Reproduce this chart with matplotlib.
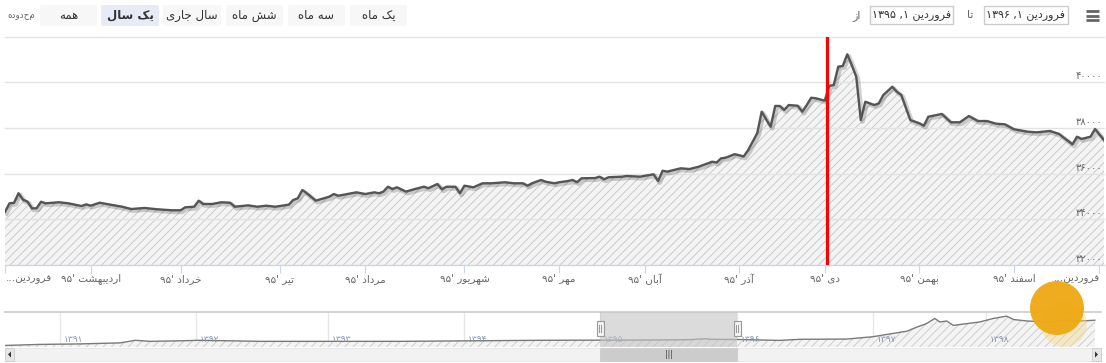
import matplotlib
matplotlib.use('Agg')
import matplotlib.pyplot as plt
from matplotlib import font_manager, ft2font, patheffects as pe, transforms
from matplotlib.patches import Rectangle, FancyBboxPatch, Circle, Polygon

# ---------------- data ----------------
main_days = [0, 1, 2, 3, 4, 5, 6, 7, 8, 9, 12, 14, 17, 18, 19, 21, 23, 26, 28, 31, 34, 37, 39, 40,
             42, 43, 44, 46, 48, 50, 51, 54, 56, 58, 60, 63, 64, 65, 66, 67, 69, 70, 72, 73, 74,
             77, 78, 80, 82, 83, 84, 85, 86, 87, 89, 91, 93, 94, 96, 97, 98, 100, 101, 102, 104,
             106, 108, 111, 113, 115, 116, 117, 119, 120, 122, 123, 125, 126, 127, 128, 131, 132,
             133, 134, 137, 138, 141, 144, 145, 146, 147, 150, 152, 154, 157, 158, 159, 160, 162,
             164, 165, 166, 167, 168, 170, 171, 172, 173, 174, 176, 177, 178, 179, 180, 182, 183,
             184, 185, 186, 187, 188, 189, 190, 191, 193, 194, 195, 197, 198, 199, 201, 203, 204,
             205, 208, 210, 212, 214, 216, 218, 220, 222, 224, 227, 229, 232, 234, 237, 238, 239,
             241, 242, 244]
main_vals = [34330, 34700, 34720, 35140, 34860, 34770, 34480, 34480, 34770, 34700, 34745, 34700,
             34580, 34655, 34595, 34725, 34655, 34550, 34450, 34495, 34435, 34395, 34395, 34525,
             34550, 34815, 34670, 34670, 34745, 34725, 34550, 34610, 34550, 34595, 34550, 34640,
             34845, 34920, 35280, 35140, 34815, 34875, 34990, 35105, 35030, 35140, 35180, 35105,
             35180, 35140, 35210, 35425, 35325, 35400, 35210, 35325, 35425, 35360, 35545, 35315,
             35425, 35425, 35140, 35470, 35400, 35575, 35575, 35620, 35575, 35575, 35470, 35575,
             35720, 35645, 35575, 35620, 35675, 35720, 35620, 35795, 35805, 35865, 35750, 35840,
             35865, 35895, 35865, 35970, 35675, 36125, 36085, 36230, 36200, 36300, 36520, 36485,
             36670, 36695, 36850, 36750, 37030, 37395, 37765, 38710, 38050, 38960, 38960, 38785,
             39000, 38970, 38710, 39000, 39320, 39295, 39190, 39845, 39875, 40680, 40710, 41220,
             40750, 40240, 38345, 39145, 39000, 39075, 39440, 39800, 39585, 39440, 38345, 38200,
             38095, 38490, 38610, 38245, 38245, 38520, 38300, 38300, 38185, 38155, 37940, 37835,
             37805, 37865, 37735, 37280, 37615, 37515, 37615, 37950, 37470]

month_names = ['فروردین', 'اردیبهشت', 'خرداد', 'تیر', 'مرداد', 'شهریور', 'مهر',
               'آبان', 'آذر', 'دی', 'بهمن', 'اسفند', 'فروردین']
month_years = ['95'] * 12 + ['96']
month_ticks = [0, 19, 39, 61, 80, 102, 123, 142, 163, 182, 203, 224, 243]
y_ticks = [32000, 34000, 36000, 38000, 40000]
grid_vals = [34000, 36000, 38000, 40000, 42000]
y_min, y_max = 32000, 42000
x_max = 244
marker_day = 182.5

nav_pos = [0, 62, 134, 205, 232, 258, 312, 347, 454, 579, 703, 828, 953, 1060, 1120, 1180, 1220,
           1247, 1260, 1304, 1380, 1416, 1499, 1546, 1576, 1606, 1624, 1641, 1656, 1665, 1677,
           1689, 1713, 1736, 1760, 1784, 1796, 1820, 1855, 1891, 1915, 1941]
nav_vals = [7700, 12900, 15400, 20600, 33500, 28300, 30900, 33500, 28300, 28300, 28300, 30900,
            33500, 34300, 34550, 35650, 36700, 41200, 38350, 37500, 33000, 38600, 39600, 51500,
            65400, 78800, 99300, 116800, 142600, 125100, 130200, 108100, 116800, 125100, 142600,
            154400, 137400, 130200, 125100, 133800, 130200, 133800]
nav_years = [1391, 1392, 1393, 1394, 1395, 1396, 1397, 1398]
nav_year_pos = [98, 340, 575, 817, 1060, 1304, 1546, 1747]
nav_xmax = 1952
nav_ymax = 175000
range_start, range_end = 1060, 1304

buttons = ['یک ماه', 'سه ماه', 'شش ماه', 'سال جاری', 'یک سال', 'همه']
selected_button = 'یک سال'
date_from = ('فروردین', '1', '1395')
date_to = ('فروردین', '1', '1396')

# ---------------- Persian text helpers ----------------
plt.rcParams['font.family'] = ['DejaVu Sans']
_reg = ft2font.FT2Font(font_manager.findfont(font_manager.FontProperties(family='DejaVu Sans')))
CMAP = _reg.get_charmap()
_bold = ft2font.FT2Font(font_manager.findfont(
    font_manager.FontProperties(family='DejaVu Sans', weight='bold')))
BCMAP = _bold.get_charmap()

FORMS = {
    'ا': (0xFE8D, 0xFE8E, None, None), 'آ': (0xFE81, 0xFE82, None, None),
    'ب': (0xFE8F, 0xFE90, 0xFE91, 0xFE92), 'ت': (0xFE95, 0xFE96, 0xFE97, 0xFE98),
    'ج': (0xFE9D, 0xFE9E, 0xFE9F, 0xFEA0), 'خ': (0xFEA5, 0xFEA6, 0xFEA7, 0xFEA8),
    'د': (0xFEA9, 0xFEAA, None, None), 'ذ': (0xFEAB, 0xFEAC, None, None),
    'ر': (0xFEAD, 0xFEAE, None, None), 'ز': (0xFEAF, 0xFEB0, None, None),
    'س': (0xFEB1, 0xFEB2, 0xFEB3, 0xFEB4), 'ش': (0xFEB5, 0xFEB6, 0xFEB7, 0xFEB8),
    'ف': (0xFED1, 0xFED2, 0xFED3, 0xFED4), 'ل': (0xFEDD, 0xFEDE, 0xFEDF, 0xFEE0),
    'م': (0xFEE1, 0xFEE2, 0xFEE3, 0xFEE4), 'ن': (0xFEE5, 0xFEE6, 0xFEE7, 0xFEE8),
    'ه': (0xFEE9, 0xFEEA, 0xFEEB, 0xFEEC), 'و': (0xFEED, 0xFEEE, None, None),
    'ی': (0xFBFC, 0xFBFD, 0xFBFE, 0xFBFF), 'ک': (0xFB8E, 0xFB8F, 0xFB90, 0xFB91),
}
ALT = {'ی': (0xFEEF, 0xFEF0, 0xFEF3, 0xFEF4), 'ک': (0xFED9, 0xFEDA, 0xFEDB, 0xFEDC)}
DIGIT0 = 0x06F0 if 0x06F4 in CMAP else 0x0660


def fa(s):
    return ''.join(chr(DIGIT0 + int(c)) if c.isdigit() else c for c in s)


def shape(s, cmap=CMAP):
    out = []
    for i, c in enumerate(s):
        f = FORMS.get(c)
        if not f:
            out.append(c)
            continue
        prev = s[i - 1] if i > 0 else ''
        nxt = s[i + 1] if i < len(s) - 1 else ''
        jp = prev in FORMS and FORMS[prev][2] is not None
        jn = f[2] is not None and nxt in FORMS
        k = 3 if (jp and jn) else 1 if jp else 2 if jn else 0
        cp = f[k]
        if cp not in cmap and c in ALT:
            cp = ALT[c][k]
        out.append(chr(cp) if cp in cmap else c)
    return ''.join(out)


def is_digit(ch):
    o = ord(ch)
    return ch.isascii() and ch.isdigit() or 0x06F0 <= o <= 0x06F9 or 0x0660 <= o <= 0x0669


def vis(s, cmap=CMAP):
    t = shape(s, cmap)
    segs, cur = [], ''
    for ch in t:
        if is_digit(ch):
            cur += ch
        else:
            if cur:
                segs.append(cur)
                cur = ''
            segs.append(ch)
    if cur:
        segs.append(cur)
    return ''.join(reversed(segs))


# ---------------- figure ----------------
W, H = 1106, 363
fig = plt.figure(figsize=(W / 100, H / 100), dpi=100)
fig.patch.set_facecolor('white')


def rect(x0, y0, x1, y1):
    return [x0 / W, 1 - y1 / H, (x1 - x0) / W, (y1 - y0) / H]


ui = fig.add_axes([0, 0, 1, 1], zorder=0)
ui.set_xlim(0, W)
ui.set_ylim(H, 0)
ui.axis('off')

# range selector buttons
bx = [(350, 407), (288, 345), (226, 283), (163, 221), (101, 159), (40, 97)]
for label, (x0, x1) in zip(buttons, bx):
    sel = label == selected_button
    ui.add_patch(FancyBboxPatch((x0, 5), x1 - x0, 21, boxstyle='round,pad=0,rounding_size=2',
                                fc='#e6ebf5' if sel else '#f7f7f7', ec='none'))
    use_bold = sel and all(ord(c) in BCMAP for c in shape(label, BCMAP) if c != ' ')
    ui.text((x0 + x1) / 2, 15.5, vis(label, BCMAP if use_bold else CMAP), ha='center',
            va='center', fontsize=8.5, color='#333333',
            fontweight='bold' if use_bold else 'normal')
ui.text(21, 16, vis('محدوده'), ha='center', va='center', fontsize=6.3, color='#666666')

# date inputs
for (x0, x1), d in [((984, 1068), date_to), ((870, 953), date_from)]:
    ui.add_patch(Rectangle((x0, 6), x1 - x0, 18, fc='white', ec='#cccccc', lw=1))
    ui.text((x0 + x1) / 2, 15.5, vis(d[0] + ' ' + fa(d[1]) + ', ' + fa(d[2])),
            ha='center', va='center', fontsize=8, color='#333333')
ui.text(970, 15.5, vis('تا'), ha='center', va='center', fontsize=8, color='#666666')
ui.text(857, 15.5, vis('از'), ha='center', va='center', fontsize=8, color='#666666')
for yy in (11, 15.5, 20):
    ui.plot([1086, 1099], [yy, yy], color='#666666', lw=2, solid_capstyle='butt')

# ---------------- main chart ----------------
plt.rcParams['hatch.linewidth'] = 0.6
ax = fig.add_axes(rect(5, 36.5, 1104, 265), zorder=2)
ax.set_facecolor('none')
ax.set_xlim(0, x_max)
ax.set_ylim(y_min, y_max)
ax.fill_between(main_days, main_vals, y_min, facecolor='#f4f4f4', edgecolor='#c4c4c4',
                hatch='////', linewidth=0, zorder=1)
for v in grid_vals:
    ax.axhline(v, color='#e2e2e2', lw=1, zorder=2, clip_on=False)
ax.plot(main_days, main_vals, color='#555555', lw=1.7, zorder=3,
        path_effects=[pe.SimpleLineShadow(offset=(1.2, -1.2), shadow_color='black', alpha=0.18,
                                          linewidth=3.2), pe.Normal()])
ax.axvline(marker_day, color='#ff0000', lw=2.3, zorder=4)
for s in ('top', 'left', 'right'):
    ax.spines[s].set_visible(False)
ax.spines['bottom'].set_color('#ccd6eb')
ax.spines['bottom'].set_linewidth(1)
ax.set_yticks([])
ax.set_xticks(month_ticks)
ax.tick_params(axis='x', direction='out', length=5.8, width=0.8, color='#ccd6eb',
               labelbottom=False)
for i, (t, name, yr) in enumerate(zip(month_ticks, month_names, month_years)):
    if i == 0:
        ax.annotate(vis(name + '...'), xy=(t, 0), xycoords=('data', 'axes fraction'),
                    xytext=(1, -14), textcoords='offset pixels', ha='left', va='center',
                    fontsize=7.5, color='#666666')
    elif i == len(month_ticks) - 1:
        ax.annotate(vis(name + '...'), xy=(1, 0), xycoords='axes fraction',
                    xytext=(-4, -14), textcoords='offset pixels', ha='right', va='center',
                    fontsize=7.5, color='#666666')
    else:
        ax.annotate(vis(name + " '" + fa(yr)), xy=(t, 0), xycoords=('data', 'axes fraction'),
                    xytext=(0, -14), textcoords='offset pixels', ha='center', va='center',
                    fontsize=7.5, color='#666666')
for v in y_ticks:
    ax.annotate(fa(str(v)), xy=(1, v), xycoords=('axes fraction', 'data'), xytext=(-2, 1),
                textcoords='offset pixels', ha='right', va='bottom', fontsize=7.2,
                color='#666666', zorder=5)

# ---------------- navigator ----------------
nav = fig.add_axes(rect(5, 312, 1101, 347), zorder=2)
nav.set_facecolor('none')
nav.set_xlim(0, nav_xmax)
nav.set_ylim(0, nav_ymax)
for t in nav_year_pos:
    nav.axvline(t, color='#e6e6e6', lw=1, zorder=0)
nav.fill_between(nav_pos, nav_vals, 0, facecolor='#f4f4f4', edgecolor='#c8c8c8', hatch='////',
                 linewidth=0, zorder=1)
nav.plot(nav_pos, nav_vals, color='#7a7a7a', lw=1.0, zorder=2)
nav.axvspan(range_start, range_end, color='#c4c4c4', alpha=0.6, zorder=4, lw=0)
for s in ('bottom', 'left', 'right'):
    nav.spines[s].set_visible(False)
nav.spines['top'].set_color('#cccccc')
nav.spines['top'].set_linewidth(1.2)
nav.set_xticks([])
nav.set_yticks([])
for t, yv in zip(nav_year_pos, nav_years):
    nav.annotate(fa(str(yv)), xy=(t, 0), xycoords='data', xytext=(4, 3),
                 textcoords='offset pixels', ha='left', va='bottom', fontsize=6.5,
                 color='#8595ad', zorder=3)

# ---------------- overlay: scrollbar, handles, logo ----------------
top = fig.add_axes([0, 0, 1, 1], zorder=6)
top.set_xlim(0, W)
top.set_ylim(H, 0)
top.axis('off')
top.set_facecolor('none')


def nav_px(x):
    disp = nav.transData.transform((x, 0))
    return top.transData.inverted().transform(disp)[0]


rs, re_ = nav_px(range_start), nav_px(range_end)
top.add_patch(Rectangle((5, 348), 1096, 13, fc='#f2f2f2', ec='#e6e6e6', lw=0.6))
top.add_patch(Rectangle((rs, 348), re_ - rs, 13, fc='#cccccc', ec='#cccccc', lw=0.6))
top.text((rs + re_) / 2, 354.8, '|||', ha='center', va='center', fontsize=5.5, color='#333333')
top.add_patch(Rectangle((5, 348), 9, 13, fc='#e6e6e6', ec='#cccccc', lw=0.6))
top.add_patch(Polygon([[11, 351.5], [11, 357.5], [8, 354.5]], closed=True, fc='#333333'))
top.add_patch(Rectangle((1092, 348), 9, 13, fc='#e6e6e6', ec='#cccccc', lw=0.6))
top.add_patch(Polygon([[1095, 351.5], [1095, 357.5], [1098, 354.5]], closed=True, fc='#333333'))
for hx in (rs, re_):
    top.add_patch(Rectangle((hx - 3.5, 321), 7, 15, fc='#f2f2f2', ec='#999999', lw=0.8))
    top.plot([hx - 1, hx - 1], [325, 332], color='#999999', lw=0.7)
    top.plot([hx + 1, hx + 1], [325, 332], color='#999999', lw=0.7)

# watermark logo
top.add_patch(Circle((1064, 324), 23, fc='#f5d98c', ec='none', alpha=0.45))
top.add_patch(Circle((1057, 308), 27, fc='#eea812', ec='none', alpha=0.95))

fig.savefig('out.png', dpi=100, facecolor='white')
